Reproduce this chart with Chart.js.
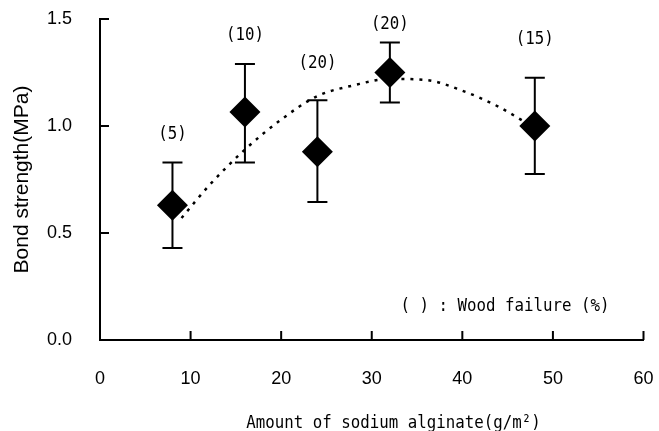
<!DOCTYPE html>
<html><head><meta charset="utf-8">
<script src="https://cdn.jsdelivr.net/npm/chart.js@4/dist/chart.umd.min.js"></script>
<style>html,body{margin:0;padding:0;background:#fff;} #wrap{width:659px;height:431px;position:relative;}</style>
</head><body><div id="wrap"><canvas id="c"></canvas></div>
<script>
// ---- data ----
const amounts      = [8, 16, 24, 32, 48];            // g/m2
const strength     = [0.63, 1.065, 0.88, 1.25, 1.0]; // MPa (means)
const errUpper     = [0.83, 1.29, 1.12, 1.39, 1.225];
const errLower     = [0.43, 0.83, 0.645, 1.11, 0.776];
const woodFailure  = ['(5)', '(10)', '(20)', '(20)', '(15)'];
const labelHeights = [0.967, 1.43, 1.30, 1.48, 1.41]; // MPa level of each label
const fitX         = [9, 12, 16, 20, 24, 28, 32, 36, 40, 44, 48];
const fitY         = [0.57, 0.72, 0.89, 1.03, 1.14, 1.19, 1.22, 1.215, 1.165, 1.09, 0.99];
const xTicks       = [0, 10, 20, 30, 40, 50, 60];
const yTicks       = [0, 0.5, 1.0, 1.5];
const xTitle       = 'Amount of sodium alginate(g/m²)';
const yTitle       = 'Bond strength(MPa)';
const noteText     = '( ) : Wood failure (%)';

const monoFont = "'DejaVu Sans Mono', monospace";
const sansFont = "'Liberation Sans', Arial, sans-serif";

// narrow "gothic" style text: monospace glyphs compressed horizontally
function drawMono(ctx, text, x, y, align) {
  const sx = 0.876;
  ctx.save();
  ctx.font = '18px ' + monoFont;
  ctx.fillStyle = '#000';
  ctx.textBaseline = 'alphabetic';
  ctx.textAlign = align;
  ctx.translate(x, y);
  ctx.scale(sx, 1);
  ctx.fillText(text, 0, 0);
  ctx.restore();
}

const extrasPlugin = {
  id: 'extras',
  afterDatasetsDraw(chart) {
    const {ctx, scales: {x, y}, chartArea} = chart;
    ctx.save();
    ctx.strokeStyle = '#000';
    ctx.lineWidth = 2;
    // error bars
    amounts.forEach((a, i) => {
      const px = x.getPixelForValue(a);
      const pt = y.getPixelForValue(errUpper[i]);
      const pb = y.getPixelForValue(errLower[i]);
      ctx.beginPath();
      ctx.moveTo(px, pt); ctx.lineTo(px, pb);
      ctx.moveTo(px - 10, pt); ctx.lineTo(px + 10, pt);
      ctx.moveTo(px - 10, pb); ctx.lineTo(px + 10, pb);
      ctx.stroke();
    });
    // inward tick marks
    ctx.beginPath();
    yTicks.forEach(v => {
      const py = y.getPixelForValue(v);
      ctx.moveTo(chartArea.left, py); ctx.lineTo(chartArea.left + 9, py);
    });
    xTicks.forEach(v => {
      const px = x.getPixelForValue(v);
      ctx.moveTo(px, chartArea.bottom); ctx.lineTo(px, chartArea.bottom - 9);
    });
    ctx.stroke();
    ctx.restore();
    // wood failure labels (baseline ~6px below the label level)
    amounts.forEach((a, i) => {
      drawMono(ctx, woodFailure[i], x.getPixelForValue(a), y.getPixelForValue(labelHeights[i]) + 6, 'center');
    });
    // note inside plot
    drawMono(ctx, noteText, chartArea.left + 0.553 * chartArea.width, chartArea.bottom - 29, 'left');
    // x axis title
    drawMono(ctx, xTitle, chartArea.left + 0.54 * chartArea.width, chart.height - 3, 'center');
  }
};

new Chart(document.getElementById('c'), {
  type: 'scatter',
  data: {
    datasets: [
      {
        label: 'fit',
        type: 'line',
        data: fitX.map((v, i) => ({x: v, y: fitY[i]})),
        borderColor: '#000',
        borderWidth: 2.5,
        borderDash: [3, 6],
        pointRadius: 0,
        fill: false,
        cubicInterpolationMode: 'monotone',
        order: 2
      },
      {
        label: 'Bond strength',
        data: amounts.map((v, i) => ({x: v, y: strength[i]})),
        pointStyle: 'rectRot',
        pointRadius: 15.5,
        backgroundColor: '#000',
        borderColor: '#000',
        borderWidth: 0,
        order: 1
      }
    ]
  },
  options: {
    responsive: true,
    maintainAspectRatio: false,
    animation: false,
    devicePixelRatio: 1,
    layout: {padding: {left: 0, right: 13, top: 19, bottom: 0}},
    plugins: {legend: {display: false}, tooltip: {enabled: false}},
    scales: {
      x: {
        type: 'linear', min: 0, max: 60,
        afterBuildTicks: s => { s.ticks = xTicks.map(v => ({value: v})); },
        afterFit: s => { s.height = 91; s.paddingLeft = 0; s.paddingRight = 0; },
        grid: {display: false, drawTicks: false, tickLength: 0},
        border: {display: true, color: '#000', width: 2},
        ticks: {color: '#000', font: {family: sansFont, size: 18}, padding: 28, maxRotation: 0},
        title: {display: false, text: xTitle}
      },
      y: {
        type: 'linear', min: 0, max: 1.5,
        afterBuildTicks: s => { s.ticks = yTicks.map(v => ({value: v})); },
        afterFit: s => { s.width = 100; s.paddingTop = 0; s.paddingBottom = 0; },
        grid: {display: false, drawTicks: false, tickLength: 0},
        border: {display: true, color: '#000', width: 2},
        ticks: {color: '#000', font: {family: sansFont, size: 18}, padding: 28,
                callback: v => Number(v).toFixed(1)},
        title: {display: true, text: yTitle, color: '#000',
                font: {family: sansFont, size: 21}, padding: {top: 10, bottom: 0}}
      }
    }
  },
  plugins: [extrasPlugin]
});
</script></body></html>
